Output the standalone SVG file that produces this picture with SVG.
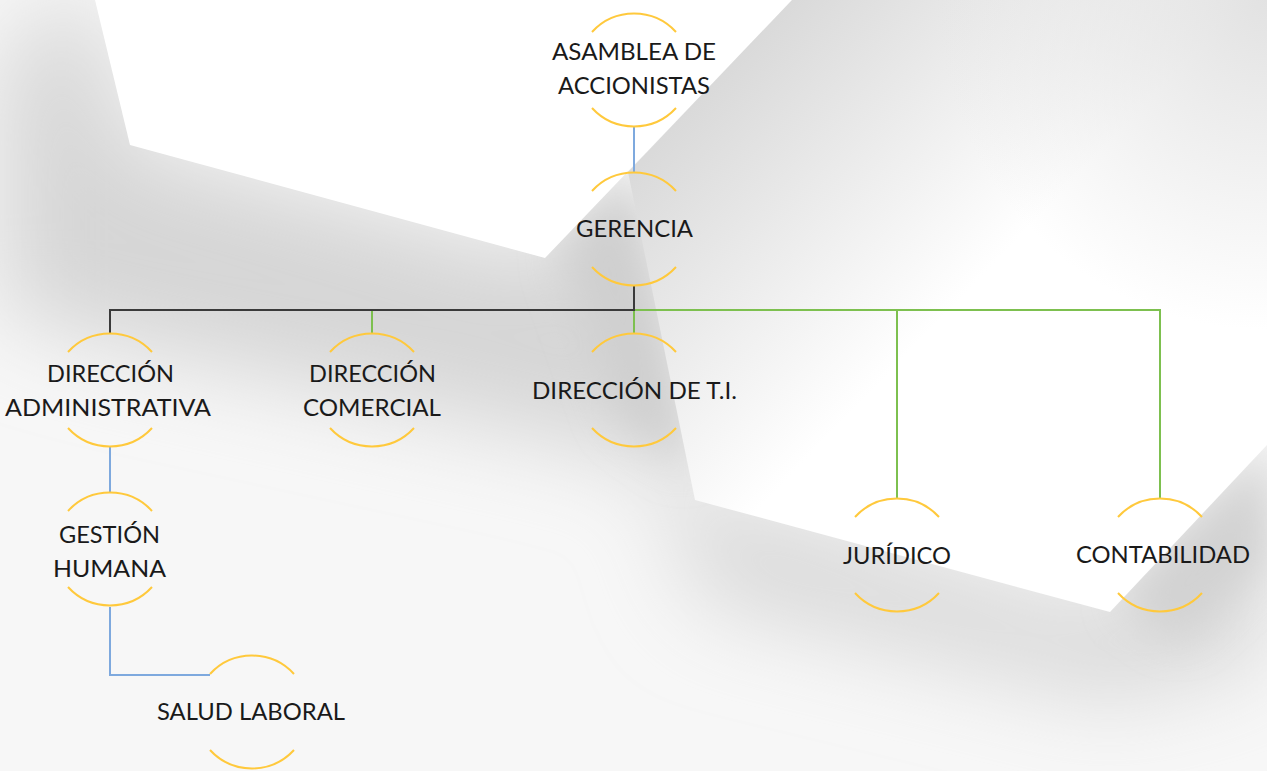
<svg xmlns="http://www.w3.org/2000/svg" width="1267" height="771" viewBox="0 0 1267 771">
<defs>
<filter id="blur" x="-30%" y="-30%" width="160%" height="160%"><feGaussianBlur stdDeviation="45"/></filter>
<filter id="blur2" x="-30%" y="-30%" width="160%" height="160%"><feGaussianBlur stdDeviation="20"/></filter>
<linearGradient id="p2g" gradientUnits="userSpaceOnUse" x1="690" y1="100" x2="930" y2="330">
<stop offset="0" stop-color="#d9d9d9"/>
<stop offset="1" stop-color="#ffffff"/>
</linearGradient>
<radialGradient id="trg" gradientUnits="userSpaceOnUse" cx="1267" cy="0" r="330">
<stop offset="0" stop-color="#e2e2e2" stop-opacity="1"/>
<stop offset="1" stop-color="#e2e2e2" stop-opacity="0"/>
</radialGradient>
<style>
.arc{fill:none;stroke:#FFC93C;stroke-width:2}
.t{font-family:Lato,"Liberation Sans",sans-serif;font-size:24px;fill:#1a1a1a;text-anchor:middle}
.blue{fill:none;stroke:#7EA9DE;stroke-width:2}
.green{fill:none;stroke:#7DC04F;stroke-width:2}
.dark{fill:none;stroke:#3a3a3a;stroke-width:2}
</style>
</defs>
<g id="background">
<rect width="1267" height="771" fill="#f7f7f7"/>
<g filter="url(#blur)">
<polygon points="60,0 95,0 130,145 545,258 630,172 700,480 560,440 100,340 0,310 0,60" fill="#d6d6d6"/>
<polygon points="660,480 1110,612 1267,445 1267,660 1110,700 700,600" fill="#d8d8d8"/>
</g>
<g filter="url(#blur2)">
<polygon points="560,250 630,172 690,470 620,420" fill="#cfcfcf"/>
<polygon points="1120,600 1267,450 1267,560 1180,640" fill="#d2d2d2"/>
</g>
<polygon points="95,0 792,0 545,258 130,145" fill="#ffffff"/>
<polygon points="628,172 792,0 1267,0 1267,445 1110,612 695,500" fill="url(#p2g)"/>
<polygon points="628,172 792,0 1267,0 1267,445 1110,612 695,500" fill="url(#trg)"/>
</g>
<g id="connectors">
<path class="blue" d="M634,127 V172"/>
<path class="green" d="M372,333 V310 H1160 V498"/>
<path class="green" d="M634,310 V333"/>
<path class="green" d="M897,310 V498"/>
<path class="dark" d="M634,286 V310 H110 V333"/>
<path class="blue" d="M110,447 V492"/>
<path class="blue" d="M110,607 V675 H210"/>
</g>
<g id="asamblea">
<path class="arc" d="M592,32 A57,57 0 0 1 676,32 M592,108 A57,57 0 0 0 676,108"/>
<text class="t" x="634" y="60" textLength="164" lengthAdjust="spacingAndGlyphs">ASAMBLEA DE</text>
<text class="t" x="634" y="94" textLength="152" lengthAdjust="spacingAndGlyphs">ACCIONISTAS</text>
</g>
<g id="gerencia">
<path class="arc" d="M592,191 A57,57 0 0 1 676,191 M592,267 A57,57 0 0 0 676,267"/>
<text class="t" x="634.5" y="237" textLength="117" lengthAdjust="spacingAndGlyphs">GERENCIA</text>
</g>
<g id="dir-admin">
<path class="arc" d="M68,352 A57,57 0 0 1 152,352 M68,428 A57,57 0 0 0 152,428"/>
<text class="t" x="110.5" y="382" textLength="127" lengthAdjust="spacingAndGlyphs">DIRECCIÓN</text>
<text class="t" x="108" y="416" textLength="206" lengthAdjust="spacingAndGlyphs">ADMINISTRATIVA</text>
</g>
<g id="dir-comercial">
<path class="arc" d="M330,352 A57,57 0 0 1 414,352 M330,428 A57,57 0 0 0 414,428"/>
<text class="t" x="372.5" y="382" textLength="127" lengthAdjust="spacingAndGlyphs">DIRECCIÓN</text>
<text class="t" x="372" y="416" textLength="138" lengthAdjust="spacingAndGlyphs">COMERCIAL</text>
</g>
<g id="dir-ti">
<path class="arc" d="M592,352 A57,57 0 0 1 676,352 M592,428 A57,57 0 0 0 676,428"/>
<text class="t" x="634.5" y="399" textLength="205" lengthAdjust="spacingAndGlyphs">DIRECCIÓN DE T.I.</text>
</g>
<g id="gestion-humana">
<path class="arc" d="M68,511 A57,57 0 0 1 152,511 M68,587 A57,57 0 0 0 152,587"/>
<text class="t" x="109.5" y="543" textLength="101" lengthAdjust="spacingAndGlyphs">GESTIÓN</text>
<text class="t" x="109.5" y="577" textLength="113" lengthAdjust="spacingAndGlyphs">HUMANA</text>
</g>
<g id="salud-laboral">
<path class="arc" d="M210,674 A57,57 0 0 1 294,674 M210,750 A57,57 0 0 0 294,750"/>
<text class="t" x="251" y="720" textLength="188" lengthAdjust="spacingAndGlyphs">SALUD LABORAL</text>
</g>
<g id="juridico">
<path class="arc" d="M855,517 A57,57 0 0 1 939,517 M855,593 A57,57 0 0 0 939,593"/>
<text class="t" x="897" y="564" textLength="108" lengthAdjust="spacingAndGlyphs">JURÍDICO</text>
</g>
<g id="contabilidad">
<path class="arc" d="M1118,517 A57,57 0 0 1 1202,517 M1118,593 A57,57 0 0 0 1202,593"/>
<text class="t" x="1163" y="563" textLength="174" lengthAdjust="spacingAndGlyphs">CONTABILIDAD</text>
</g>
</svg>
